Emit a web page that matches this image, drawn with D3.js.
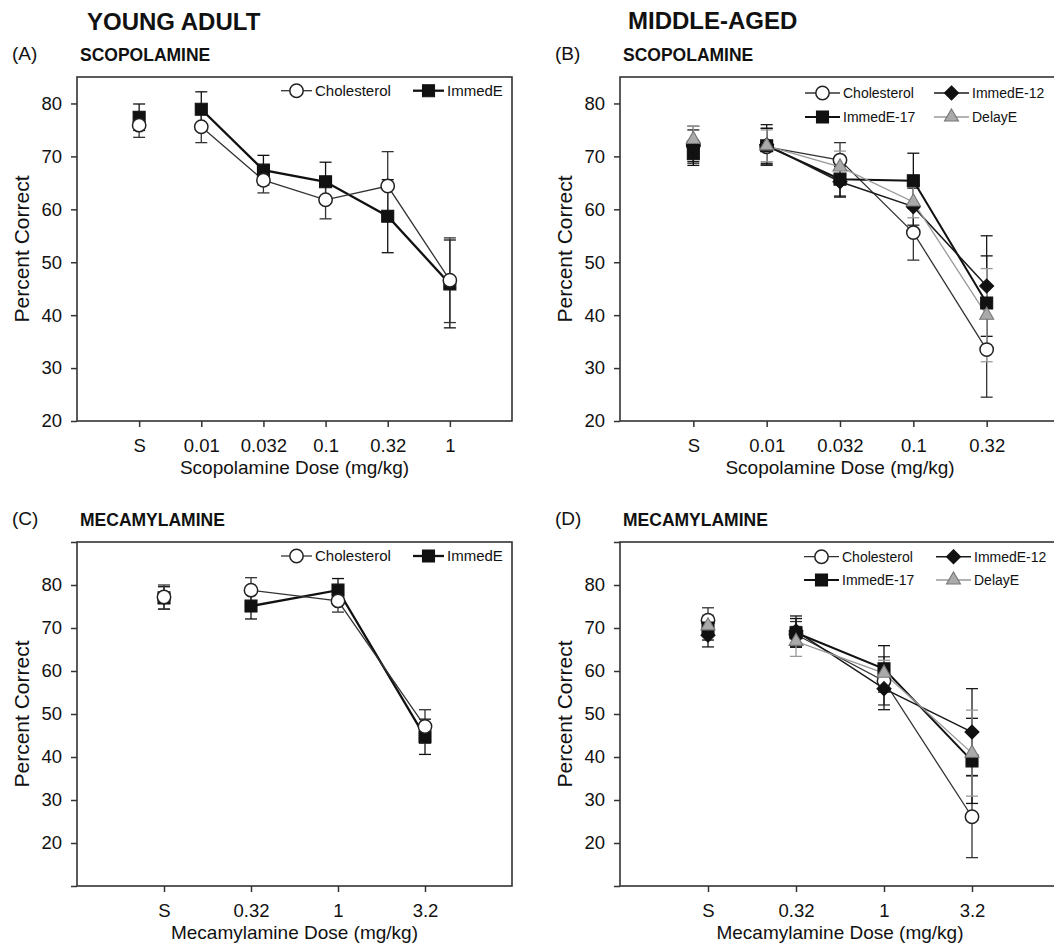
<!DOCTYPE html>
<html>
<head>
<meta charset="utf-8">
<script src="https://cdn.jsdelivr.net/npm/d3@7"></script>
<style>
  body { margin: 0; background: #fff; }
  svg { display: block; font-family: "Liberation Sans", Arial, sans-serif; }
</style>
</head>
<body>
<svg id="chart" width="1054" height="945"></svg>
<script>
// doses (x categories)
const scopDosesYoung = ['S', '0.01', '0.032', '0.1', '0.32', '1'];
const scopDosesMid = ['S', '0.01', '0.032', '0.1', '0.32'];
const mecaDoses = ['S', '0.32', '1', '3.2'];

// y ticks
const yTicksScop = [20, 30, 40, 50, 60, 70, 80];
const yTicksMeca = [10, 20, 30, 40, 50, 60, 70, 80, 90];
const yLabelledMeca = [20, 30, 40, 50, 60, 70, 80];

// (A) young adult, scopolamine
const cholA = [75.9, 75.6, 65.5, 61.8, 64.4, 46.6];
const cholAse = [2.3, 3.0, 2.4, 3.6, 6.5, 8.0];
const immA = [77.4, 78.9, 67.4, 65.2, 58.7, 45.9];
const immAse = [2.5, 3.3, 2.8, 3.7, 6.9, 8.3];

// (B) middle-aged, scopolamine
const cholB = [72.2, 71.8, 69.3, 55.6, 33.5];
const cholBse = [3.5, 3.5, 3.3, 5.2, 9.0];
const imm12B = [72.0, 72.2, 65.2, 60.5, 45.5];
const imm12Bse = [3.0, 3.8, 2.9, 3.5, 9.5];
const imm17B = [70.5, 72.0, 65.7, 65.4, 42.3];
const imm17Bse = [2.2, 3.3, 3.2, 5.2, 8.9];
const delayB = [73.2, 72.0, 68.0, 61.4, 40.0];
const delayBse = [2.5, 3.0, 3.0, 3.0, 8.8];

// (C) young adult, mecamylamine
const cholC = [77.2, 78.8, 76.3, 47.1];
const cholCse = [2.8, 2.9, 2.6, 3.9];
const immC = [77.0, 75.1, 78.8, 44.7];
const immCse = [2.6, 3.0, 2.7, 4.1];

// (D) middle-aged, mecamylamine
const cholD = [71.8, 68.5, 57.7, 26.1];
const cholDse = [2.9, 3.0, 5.6, 9.5];
const imm12D = [68.3, 69.3, 55.9, 45.8];
const imm12Dse = [2.7, 3.5, 4.9, 10.1];
const imm17D = [70.0, 68.9, 60.5, 39.1];
const imm17Dse = [2.8, 3.3, 5.4, 9.9];
const delayD = [70.5, 66.9, 59.5, 40.9];
const delayDse = [2.5, 3.5, 3.0, 10.0];

const styles = {
  chol: { label: 'Cholesterol', shape: 'circle', fill: '#fff', stroke: '#222', line: '#333', width: 1.3 },
  imm: { label: 'ImmedE', shape: 'square', fill: '#111', stroke: '#111', line: '#111', width: 2.3 },
  imm17: { label: 'ImmedE-17', shape: 'square', fill: '#111', stroke: '#111', line: '#111', width: 2 },
  imm12: { label: 'ImmedE-12', shape: 'diamond', fill: '#111', stroke: '#111', line: '#1a1a1a', width: 1.5 },
  delay: { label: 'DelayE', shape: 'triangle', fill: '#aaa', stroke: '#777', line: '#999', width: 1.3 },
};

const panels = [
  {
    tag: '(A)', drug: 'SCOPOLAMINE', xTitle: 'Scopolamine Dose (mg/kg)',
    box: [77, 77, 512, 421], yDomain: [20, 85], yTicks: yTicksScop, yLabelled: yTicksScop,
    doses: scopDosesYoung, legendFont: 15,
    series: [
      { key: 'imm', values: immA, se: immAse, legend: [413, 90.7] },
      { key: 'chol', values: cholA, se: cholAse, legend: [281, 90.7] },
    ],
  },
  {
    tag: '(B)', drug: 'SCOPOLAMINE', xTitle: 'Scopolamine Dose (mg/kg)',
    box: [620, 77, 1060, 421], yDomain: [20, 85], yTicks: yTicksScop, yLabelled: yTicksScop,
    doses: scopDosesMid, legendFont: 14,
    series: [
      { key: 'chol', values: cholB, se: cholBse, legend: [805, 93] },
      { key: 'imm17', values: imm17B, se: imm17Bse, legend: [805, 117] },
      { key: 'imm12', values: imm12B, se: imm12Bse, legend: [934, 93] },
      { key: 'delay', values: delayB, se: delayBse, legend: [934, 117] },
    ],
  },
  {
    tag: '(C)', drug: 'MECAMYLAMINE', xTitle: 'Mecamylamine Dose (mg/kg)',
    box: [77, 542, 512, 886], yDomain: [10, 90], yTicks: yTicksMeca, yLabelled: yLabelledMeca,
    doses: mecaDoses, legendFont: 15,
    series: [
      { key: 'imm', values: immC, se: immCse, legend: [413, 556] },
      { key: 'chol', values: cholC, se: cholCse, legend: [281, 556] },
    ],
  },
  {
    tag: '(D)', drug: 'MECAMYLAMINE', xTitle: 'Mecamylamine Dose (mg/kg)',
    box: [620, 542, 1060, 886], yDomain: [10, 90], yTicks: yTicksMeca, yLabelled: yLabelledMeca,
    doses: mecaDoses, legendFont: 14,
    series: [
      { key: 'chol', values: cholD, se: cholDse, legend: [804, 556.7] },
      { key: 'imm17', values: imm17D, se: imm17Dse, legend: [804, 580] },
      { key: 'imm12', values: imm12D, se: imm12Dse, legend: [936, 556.7] },
      { key: 'delay', values: delayD, se: delayDse, legend: [936, 580] },
    ],
  },
];

const svg = d3.select('#chart');

const symbolPath = (shape) => {
  if (shape === 'circle') return d3.symbol(d3.symbolCircle, 140)();
  if (shape === 'square') return d3.symbol(d3.symbolSquare, 144)();
  if (shape === 'triangle') return d3.symbol(d3.symbolTriangle, 85)();
  return 'M0,-7L7,0L0,7L-7,0Z';
};

function drawMarker(g, shape, st, x, y) {
  g.append('path')
    .attr('d', symbolPath(shape))
    .attr('transform', `translate(${x},${y})`)
    .attr('fill', st.fill)
    .attr('stroke', st.stroke)
    .attr('stroke-width', shape === 'circle' ? 1.5 : 1.1);
}

// column headings
svg.append('text').attr('x', 87).attr('y', 30).attr('font-size', 24).attr('font-weight', 'bold').attr('fill', '#111').text('YOUNG ADULT');
svg.append('text').attr('x', 628).attr('y', 29).attr('font-size', 24).attr('font-weight', 'bold').attr('fill', '#111').text('MIDDLE-AGED');

for (const p of panels) {
  const [x0, y0, x1, y1] = p.box;
  const g = svg.append('g');
  const x = d3.scalePoint().domain(p.doses).range([x0, x1]).padding(1);
  const y = d3.scaleLinear().domain(p.yDomain).range([y1, y0]);

  g.append('text').attr('x', x0 - 65).attr('y', y0 - 17).attr('font-size', 19).attr('fill', '#111').text(p.tag);
  g.append('text').attr('x', x0 + 3).attr('y', y0 - 16).attr('font-size', 17.5).attr('font-weight', 'bold').attr('fill', '#111').text(p.drug);

  const yAxis = g.append('g').attr('transform', `translate(${x0},0)`)
    .call(d3.axisLeft(y).tickValues(p.yTicks).tickSize(6).tickPadding(9)
      .tickFormat((d) => (p.yLabelled.includes(d) ? d : '')));
  const xAxis = g.append('g').attr('transform', `translate(0,${y1})`)
    .call(d3.axisBottom(x).tickSize(6).tickPadding(12));
  for (const axis of [yAxis, xAxis]) {
    axis.select('.domain').remove();
    axis.selectAll('line').attr('stroke', '#333').attr('stroke-width', 1.5);
    axis.selectAll('text').attr('font-size', 18.5).attr('fill', '#111').attr('font-family', null);
  }

  g.append('rect').attr('x', x0).attr('y', y0).attr('width', x1 - x0).attr('height', y1 - y0)
    .attr('fill', 'none').attr('stroke', '#333').attr('stroke-width', 1.6);

  g.append('text').attr('transform', `translate(${x0 - 48},${(y0 + y1) / 2}) rotate(-90)`)
    .attr('text-anchor', 'middle').attr('font-size', 21).attr('fill', '#111').text('Percent Correct');
  g.append('text').attr('x', (x0 + x1) / 2).attr('y', y1 + 53)
    .attr('text-anchor', 'middle').attr('font-size', 19).attr('fill', '#111').text(p.xTitle);

  // error bars
  for (const s of p.series) {
    const st = styles[s.key];
    s.values.forEach((v, i) => {
      const cx = x(p.doses[i]);
      const top = y(v + s.se[i]);
      const bot = y(v - s.se[i]);
      g.append('line').attr('x1', cx).attr('x2', cx).attr('y1', top).attr('y2', bot)
        .attr('stroke', st.line).attr('stroke-width', 1.3);
      for (const yy of [top, bot]) {
        g.append('line').attr('x1', cx - 6).attr('x2', cx + 6).attr('y1', yy).attr('y2', yy)
          .attr('stroke', st.line).attr('stroke-width', 1.3);
      }
    });
  }

  // connecting lines (saline point stands alone)
  const line = d3.line().x((d) => x(d[0])).y((d) => y(d[1]));
  for (const s of p.series) {
    const st = styles[s.key];
    const pts = s.values.map((v, i) => [p.doses[i], v]).slice(1);
    g.append('path').attr('d', line(pts)).attr('fill', 'none')
      .attr('stroke', st.line).attr('stroke-width', st.width);
  }

  // markers
  for (const s of p.series) {
    const st = styles[s.key];
    s.values.forEach((v, i) => drawMarker(g, st.shape, st, x(p.doses[i]), y(v)));
  }

  // legend
  for (const s of p.series) {
    const st = styles[s.key];
    const [lx, ly] = s.legend;
    const len = p.series.length > 2 ? 35 : 31;
    g.append('line').attr('x1', lx).attr('x2', lx + len).attr('y1', ly).attr('y2', ly)
      .attr('stroke', st.line).attr('stroke-width', st.width);
    drawMarker(g, st.shape, st, lx + len / 2, ly);
    g.append('text').attr('x', lx + len + 3).attr('y', ly).attr('dy', '0.35em')
      .attr('font-size', p.legendFont).attr('fill', '#111').text(st.label);
  }
}
</script>
</body>
</html>
